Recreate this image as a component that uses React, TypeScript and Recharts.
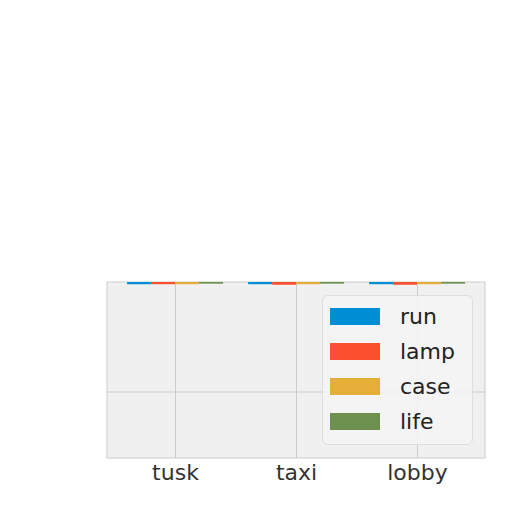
import React from 'react';
import { BarChart, Bar, XAxis, YAxis, CartesianGrid } from 'recharts';

// categories and series (bars only show as thin strips at the top)
const categories = ['tusk', 'taxi', 'lobby'];
const runValues = [-0.02, -0.02, -0.02];
const lampValues = [-0.02, -0.025, -0.025];
const caseValues = [-0.02, -0.02, -0.02];
const lifeValues = [-0.015, -0.015, -0.015];
const yTicks = [-1, 0];

const seriesNames = ['run', 'lamp', 'case', 'life'];
const seriesColors = ['#008fd5', '#fc4f30', '#e5ae38', '#6d904f'];

const FONT = '"DejaVu Sans", sans-serif';

// legend box drawn on top of the plot, upper right
const ChartLegend = () => (
  <div
    style={{
      position: 'absolute',
      left: 322,
      top: 295,
      boxSizing: 'border-box',
      width: 151,
      background: 'rgba(244,244,244,0.85)',
      border: '1px solid #dddddd',
      borderRadius: 6,
      padding: '3px 0 5px 7px',
      fontFamily: FONT,
      fontSize: 22,
      color: '#222',
    }}
  >
    {seriesNames.map((name, i) => (
      <div key={name} style={{ display: 'flex', alignItems: 'center', height: 35 }}>
        <span
          style={{
            display: 'inline-block',
            width: 50,
            height: 17,
            background: seriesColors[i],
            marginRight: 20,
          }}
        />
        <span>{name}</span>
      </div>
    ))}
  </div>
);

export default function App() {
  const data = categories.map((name, i) => ({
    name,
    run: runValues[i],
    lamp: lampValues[i],
    case: caseValues[i],
    life: lifeValues[i],
  }));

  return (
    <div style={{ position: 'absolute', left: 0, top: 0, width: 512, height: 512, background: '#fff' }}>
      <BarChart
        width={512}
        height={512}
        data={data}
        margin={{ top: 282, right: 27, left: 107, bottom: 24 }}
        barCategoryGap="10%"
        barGap={0}
      >
        <CartesianGrid stroke="#cbcbcb" fill="#f0f0f0" />
        <XAxis
          dataKey="name"
          axisLine={false}
          tickLine={false}
          tickMargin={0}
          height={30}
          padding={{ left: 8, right: 7 }}
          tick={{ fill: '#333', fontSize: 22, fontFamily: FONT }}
        />
        <YAxis domain={[-1.6, 0]} ticks={yTicks} hide />
        {seriesNames.map((name, i) => (
          <Bar key={name} dataKey={name} fill={seriesColors[i]} isAnimationActive={false} />
        ))}
      </BarChart>
      <ChartLegend />
    </div>
  );
}
